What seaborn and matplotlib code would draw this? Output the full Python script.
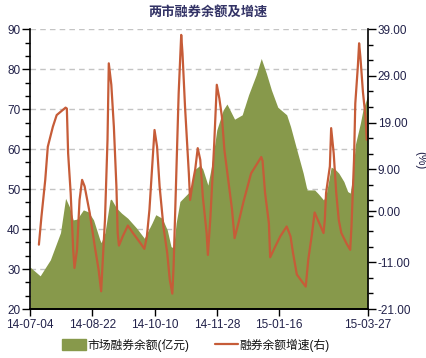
import pandas as pd
import numpy as np
import matplotlib
matplotlib.use('Agg')
import matplotlib.pyplot as plt
import matplotlib.dates as mdates
from matplotlib.lines import Line2D
from matplotlib.patches import Patch
import seaborn as sns

# --- DATA ---
balance_dates = [
    '2014-07-04', '2014-07-12', '2014-07-20', '2014-07-28', '2014-08-01', '2014-08-04',
    '2014-08-07', '2014-08-10', '2014-08-15', '2014-08-19', '2014-08-23', '2014-08-28',
    '2014-08-29', '2014-09-01', '2014-09-05', '2014-09-06', '2014-09-10', '2014-09-14',
    '2014-09-19', '2014-09-26', '2014-10-02', '2014-10-08', '2014-10-11', '2014-10-16',
    '2014-10-20', '2014-10-23', '2014-10-25', '2014-10-27', '2014-10-30', '2014-11-03',
    '2014-11-07', '2014-11-11', '2014-11-15', '2014-11-17', '2014-11-21', '2014-11-24',
    '2014-11-28', '2014-12-03', '2014-12-06', '2014-12-12', '2014-12-18', '2014-12-23',
    '2014-12-29', '2015-01-02', '2015-01-06', '2015-01-10', '2015-01-15', '2015-01-22',
    '2015-01-25', '2015-01-30', '2015-02-04', '2015-02-07', '2015-02-13', '2015-02-16',
    '2015-02-20', '2015-02-22', '2015-02-26', '2015-03-01', '2015-03-04', '2015-03-08',
    '2015-03-11', '2015-03-13', '2015-03-15', '2015-03-17', '2015-03-21', '2015-03-23',
    '2015-03-26', '2015-03-27',
]
balance_vals = [
    30.5, 28.3, 32.3, 39.1, 47.7, 45.6,
    42.3, 42.5, 44.8, 44.3, 42.3, 37.3,
    36.6, 39.1, 47.3, 47.5, 45.3, 44.0,
    42.7, 40.2, 37.7, 41.5, 43.6, 42.7,
    39.8, 35.6, 35.3, 41.5, 46.9, 48.2,
    49.5, 55.0, 56.0, 55.0, 51.0, 56.0,
    64.8, 69.8, 71.3, 67.5, 68.6, 73.6,
    78.6, 82.7, 79.0, 74.8, 70.5, 68.6,
    65.7, 59.8, 54.0, 49.8, 49.8, 48.8,
    47.3, 48.5, 55.5, 55.0, 54.0, 51.9,
    49.4, 49.0, 53.2, 61.1, 66.5, 69.8,
    72.7, 73.5,
]

growth_dates = [
    '2014-07-11', '2014-07-13', '2014-07-16', '2014-07-18', '2014-07-22', '2014-07-25',
    '2014-08-01', '2014-08-02', '2014-08-03', '2014-08-05', '2014-08-07', '2014-08-08',
    '2014-08-10', '2014-08-12', '2014-08-14', '2014-08-16', '2014-08-20', '2014-08-24',
    '2014-08-27', '2014-08-29', '2014-08-30', '2014-09-01', '2014-09-03', '2014-09-04',
    '2014-09-06', '2014-09-08', '2014-09-10', '2014-09-11', '2014-09-12', '2014-09-15',
    '2014-09-19', '2014-09-23', '2014-09-29', '2014-10-02', '2014-10-04', '2014-10-06',
    '2014-10-08', '2014-10-10', '2014-10-12', '2014-10-14', '2014-10-17', '2014-10-20',
    '2014-10-22', '2014-10-24', '2014-10-25', '2014-10-27', '2014-10-29', '2014-10-31',
    '2014-11-01', '2014-11-03', '2014-11-06', '2014-11-07', '2014-11-09', '2014-11-11',
    '2014-11-13', '2014-11-15', '2014-11-17', '2014-11-20', '2014-11-21', '2014-11-23',
    '2014-11-26', '2014-11-28', '2014-11-30', '2014-12-02', '2014-12-04', '2014-12-07',
    '2014-12-10', '2014-12-12', '2014-12-15', '2014-12-19', '2014-12-25', '2015-01-02',
    '2015-01-03', '2015-01-05', '2015-01-08', '2015-01-09', '2015-01-13', '2015-01-17',
    '2015-01-22', '2015-01-25', '2015-01-27', '2015-01-30', '2015-02-03', '2015-02-06',
    '2015-02-08', '2015-02-11', '2015-02-13', '2015-02-16', '2015-02-20', '2015-02-21',
    '2015-02-22', '2015-02-25', '2015-02-26', '2015-02-28', '2015-03-02', '2015-03-04',
    '2015-03-06', '2015-03-10', '2015-03-13', '2015-03-14', '2015-03-16', '2015-03-17',
    '2015-03-19', '2015-03-20', '2015-03-21', '2015-03-23', '2015-03-25', '2015-03-26',
]
growth_vals = [
    -7.2, -1.2, 6.7, 13.8, 18.1, 20.6,
    22.2, 22.0, 12.4, 3.9, -8.3, -12.2,
    -8.3, 2.4, 6.7, 5.3, -0.4, -7.6,
    -12.6, -17.2, -11.9, -1.9, 15.3, 31.7,
    27.1, 18.1, 5.3, -4.7, -7.4, -5.4,
    -3.1, -4.7, -6.9, -8.1, -5.4, 0.3,
    8.9, 17.4, 13.8, 5.3, -3.3, -9.0,
    -14.7, -17.7, -11.9, 6.7, 25.3, 37.8,
    33.9, 22.4, 8.1, 2.4, 6.0, 8.9,
    13.5, 11.0, 3.1, -4.7, -9.4, -1.2,
    14.6, 27.1, 24.2, 20.3, 13.1, 6.7,
    0.3, -5.8, -2.6, 2.0, 8.1, 11.6,
    10.8, 3.9, -2.6, -9.9, -7.6, -5.4,
    -3.3, -5.4, -9.0, -13.6, -15.1, -16.2,
    -10.4, -4.7, -0.3, -2.2, -4.7, -1.9,
    3.9, 9.6, 17.8, 12.4, 3.9, -1.9,
    -4.7, -6.9, -8.3, -3.3, 11.0, 23.1,
    31.0, 36.0, 33.1, 25.6, 20.3, 15.3,
]

date_ticks = ['2014-07-04', '2014-08-22', '2014-10-10', '2014-11-28', '2015-01-16', '2015-03-27']
left_ticks = [20, 30, 40, 50, 60, 70, 80, 90]
right_ticks = [-21, -11, 0, 9, 19, 29, 39]

title = '两市融券余额及增速'
balance_label = '市场融券余额(亿元)'
growth_label = '融券余额增速(右)'

GREEN = '#87994B'
RED = '#C65C38'
TEXT = '#22224A'


def plot():
    sns.set_theme(style='white')
    plt.rcParams['font.family'] = ['Liberation Sans', 'Noto Sans CJK SC']

    bal = pd.DataFrame({'date': pd.to_datetime(balance_dates), 'value': balance_vals})
    gr = pd.DataFrame({'date': pd.to_datetime(growth_dates), 'value': growth_vals})

    fig = plt.figure(figsize=(4.26, 3.58), dpi=100)
    ax = fig.add_axes([30 / 426, 49 / 358, 338 / 426, 279.7 / 358])

    # --- area: balance (left axis) ---
    ax.fill_between(bal['date'], bal['value'], 20, color=GREEN, lw=0, zorder=2)
    ax.set_ylim(20, 90)
    ax.set_yticks(left_ticks)
    ax.set_yticks([v for v in np.arange(20, 90, 10 / 3) if round(v, 3) not in left_ticks], minor=True)
    ax.yaxis.grid(True, which='major', linestyle=(0, (4, 3)), color='#c4c4c4', lw=1, zorder=0)
    ax.set_axisbelow(True)

    ax.set_xlim(pd.Timestamp(date_ticks[0]), pd.Timestamp(date_ticks[-1]))
    ax.set_xticks(pd.to_datetime(date_ticks))
    ax.xaxis.set_major_formatter(mdates.DateFormatter('%y-%m-%d'))

    # --- line: growth (right axis) ---
    ax2 = ax.twinx()
    sns.lineplot(data=gr, x='date', y='value', ax=ax2, color=RED, lw=1.6, legend=False)
    ax2.set_ylim(-21, 39)
    ax2.set_yticks(right_ticks)
    ax2.set_yticklabels([f'{v:.2f}' for v in right_ticks])
    ax2.set_yticks([v for v in np.arange(-21, 39.01, 10 / 3)
                    if min(abs(v - t) for t in right_ticks) > 0.5], minor=True)
    ax2.set_xlabel('')
    ax2.set_ylabel('')
    ax.set_xlabel('')
    ax.set_ylabel('')

    for a in (ax, ax2):
        a.spines['top'].set_visible(False)
        for s in ('left', 'right', 'bottom'):
            a.spines[s].set_color('black')
            a.spines[s].set_linewidth(1.2)
    ax.spines['right'].set_visible(False)
    ax2.spines['left'].set_visible(False)

    ax.tick_params(axis='y', which='major', direction='out', length=6, width=1,
                   color='black', labelsize=8.5, labelcolor=TEXT, pad=1)
    ax.tick_params(axis='y', which='minor', direction='out', length=3.5, width=1, color='black', left=True)
    ax.tick_params(axis='x', which='major', direction='out', length=5, width=1,
                   color='black', labelsize=8.5, labelcolor=TEXT, pad=2, bottom=True)
    ax2.tick_params(axis='y', which='major', direction='out', length=6, width=1,
                    color='black', labelsize=8.5, labelcolor=TEXT, pad=1)
    ax2.tick_params(axis='y', which='minor', direction='out', length=3.5, width=1, color='black', right=True)

    fig.text(208 / 426, 1 - 12 / 358, title, ha='center', va='center',
             fontsize=9.5, fontweight='bold', color='#333366')
    fig.text(420 / 426, 1 - 160 / 358, '(%)', rotation=270, ha='center', va='center',
             fontsize=8.5, color=TEXT)

    handles = [Patch(color=GREEN), Line2D([0], [0], color=RED, lw=1.6)]
    fig.legend(handles, [balance_label, growth_label], loc='center',
               bbox_to_anchor=(196 / 426, 1 - 345 / 358), ncol=2, frameon=False,
               fontsize=8.5, handlelength=2.0, handleheight=1.0, handletextpad=0.1,
               columnspacing=2.2, labelcolor='#111111')

    fig.savefig('out.png', dpi=100)


if __name__ == '__main__':
    plot()
